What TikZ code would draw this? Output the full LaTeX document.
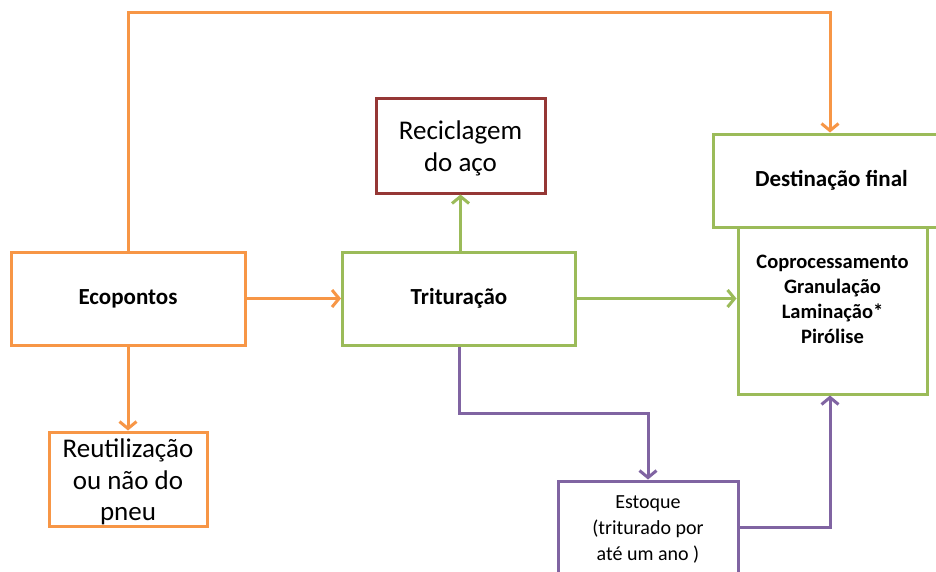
\documentclass[tikz,border=0pt]{standalone}
\usepackage{fontspec}
\setmainfont{Carlito}
\usetikzlibrary{arrows.meta}
\definecolor{orng}{HTML}{F79646}
\definecolor{grn}{HTML}{9BBB59}
\definecolor{purp}{HTML}{8064A2}
\definecolor{dred}{HTML}{953735}
\tikzset{
  box/.style={draw, line width=3pt, fill=white, inner sep=2pt, align=center},
  link/.style={line width=3pt, -{Straight Barb[length=7pt,width=17pt]}},
  bigtxt/.style={font=\fontsize{27}{31.5}\selectfont, align=center},
  midtxt/.style={font=\fontsize{20}{26}\selectfont},
  boldtxt/.style={font=\fontsize{23}{25}\selectfont\bfseries},
  smbold/.style={font=\fontsize{20.5}{25}\selectfont\bfseries},
}
\begin{document}
\begin{tikzpicture}[x=1pt,y=-1pt]
\path[use as bounding box, clip] (0,0) rectangle (936,571);
\fill[white] (0,0) rectangle (936,571);

% boxes
\node[box, draw=orng, boldtxt, minimum width=234pt, minimum height=93pt] (eco) at (128,298.5) {Ecopontos};
\node[box, draw=grn, boldtxt, minimum width=233pt, minimum height=93pt] (trit) at (459,298.5) {Trituração};
\node[box, draw=dred, minimum width=169pt, minimum height=95pt,
      label={[bigtxt, yshift=-3pt]center:Reciclagem\\do aço}] (recic) at (460.5,145.5) {};
\node[box, draw=grn, boldtxt, minimum width=237pt, minimum height=93pt] (dest) at (831.5,180.5) {Destinação final};
\node[box, draw=grn, minimum width=189pt, minimum height=167pt] (meth) at (832.5,310.5) {};
\node[smbold, align=center] (methtxt) at (832.5,299.5) {Coprocessamento\\Granulação\\Laminação*\\Pirólise};
\node[box, draw=purp, midtxt, minimum width=180pt, minimum height=96pt] (est) at (648,529) {Estoque\\(triturado por\\até um ano )};
\node[box, draw=orng, minimum width=158pt, minimum height=94pt,
      label={[bigtxt, yshift=-3pt]center:Reutilização\\ou não do\\pneu}] (reut) at (128,479) {};

% connector waypoints
\coordinate (tl) at (128,12);
\coordinate (tr) at (830,12);
\coordinate (pa) at (459,413);
\coordinate (pb) at (648,413);
\coordinate (pc) at (830,527);

% orange connectors
\draw[link, orng] (eco.north) -- (tl) -- (tr) -- (tr |- dest.north);
\draw[link, orng] (eco.east) -- (trit.west);
\draw[link, orng] (eco.south) -- (reut.north);

% green connectors
\draw[link, grn] (trit.north -| recic.south) -- (recic.south);
\draw[link, grn] (trit.east) -- (trit.east -| meth.west);

% purple connectors
\draw[link, purp] (trit.south) -- (pa) -- (pb) -- (pb |- est.north);
\draw[link, purp] (est.east |- pc) -- (pc) -- (pc |- meth.south);
\end{tikzpicture}
\end{document}
